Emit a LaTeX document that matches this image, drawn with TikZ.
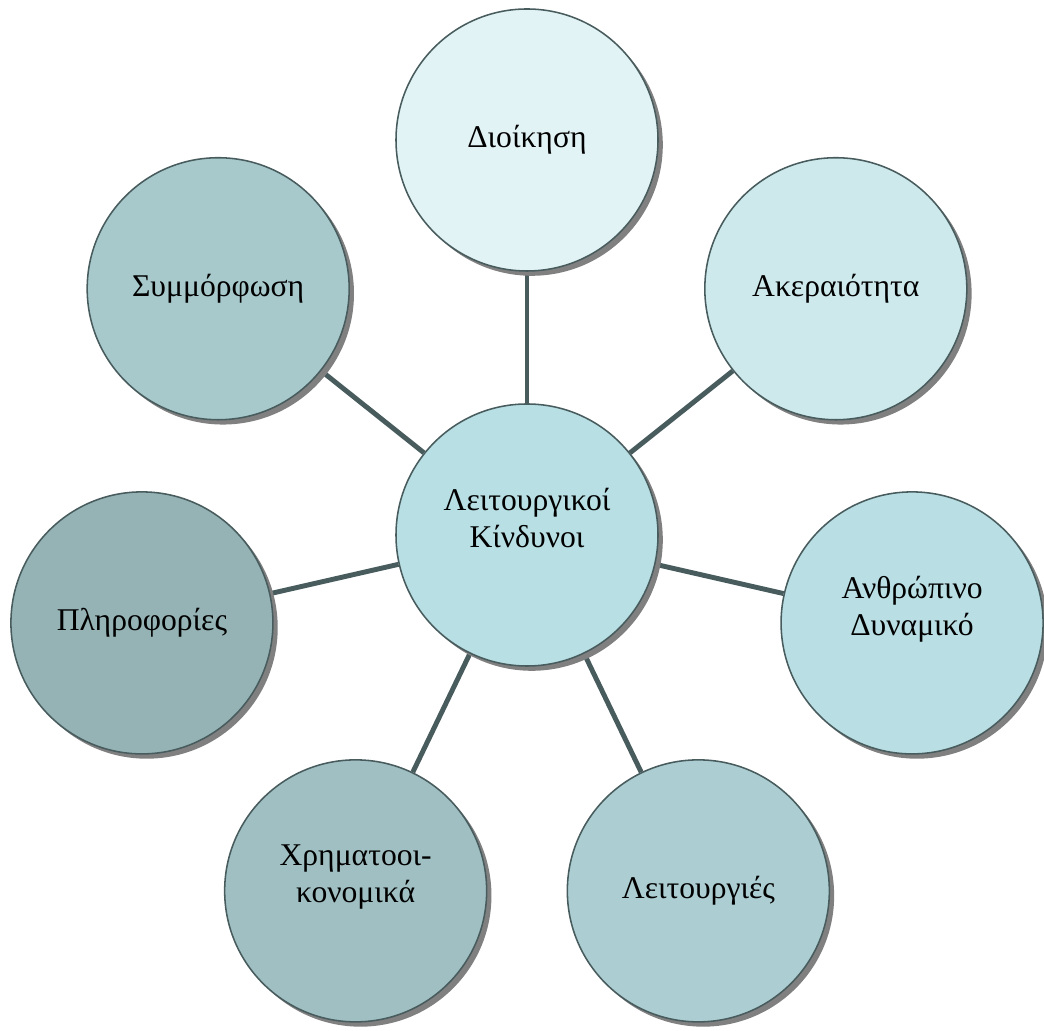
\documentclass[tikz,border=0pt]{standalone}
\usepackage{fontspec}
\setmainfont{Liberation Serif}
\usepackage{xcolor}
\usepackage{tikz}
\usetikzlibrary{shadows,backgrounds}

\definecolor{rimcol}{HTML}{485C5E}
\definecolor{hubcol}{HTML}{B8DFE4}
\definecolor{dioikcol}{HTML}{E2F3F5}
\definecolor{akercol}{HTML}{CDE9EC}
\definecolor{anthrcol}{HTML}{B9DFE4}
\definecolor{leitcol}{HTML}{ACCED2}
\definecolor{xrimcol}{HTML}{A0BFC2}
\definecolor{plircol}{HTML}{95B3B5}
\definecolor{symmcol}{HTML}{A7C9CC}

\tikzset{
  bubble/.style={circle, draw=rimcol, line width=1.1pt, minimum size=6.55cm,
    inner sep=0pt, align=center, font=\fontsize{22.5}{26.3}\selectfont,
    drop shadow={shadow xshift=0.12cm, shadow yshift=-0.12cm, fill=black!50, opacity=1}},
  twoline/.style={text depth=0.85cm},
  spoke/.style={rimcol, line width=3.5pt}
}

\begin{document}
\begin{tikzpicture}
    \useasboundingbox (0,0) rectangle (26.1,25.75);
    \node[bubble, fill=hubcol, twoline] (risk) at (13.175,12.375) {Λειτουργικοί\\Κίνδυνοι};
    \node[bubble, fill=dioikcol] (dioik) at ([shift={(90:9.875)}]risk.center) {Διοίκηση};
    \node[bubble, fill=akercol] (aker) at ([shift={(38.57:9.875)}]risk.center) {Ακεραιότητα};
    \node[bubble, fill=anthrcol, twoline] (anthr) at ([shift={(-12.86:9.875)}]risk.center) {Ανθρώπινο\\Δυναμικό};
    \node[bubble, fill=leitcol] (leit) at ([shift={(-64.29:9.875)}]risk.center) {Λειτουργιές};
    \node[bubble, fill=xrimcol, twoline] (xrim) at ([shift={(-115.71:9.875)}]risk.center) {Χρηματοοι-\\κονομικά};
    \node[bubble, fill=plircol] (plir) at ([shift={(-167.14:9.875)}]risk.center) {Πληροφορίες};
    \node[bubble, fill=symmcol] (symm) at ([shift={(141.43:9.875)}]risk.center) {Συμμόρφωση};
    % spokes behind the circles
    \begin{scope}[on background layer]
      \foreach \n in {dioik,aker,anthr,leit,xrim,plir,symm}
        \draw[spoke] (risk) -- (\n);
    \end{scope}
\end{tikzpicture}
\end{document}
